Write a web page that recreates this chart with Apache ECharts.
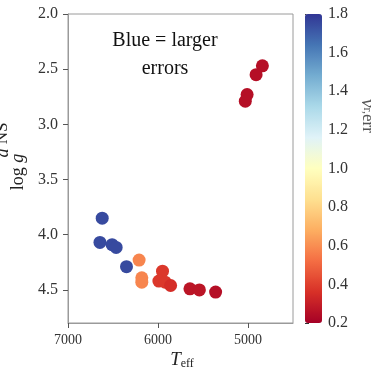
<!DOCTYPE html>
<html>
<head>
<meta charset="utf-8">
<script src="https://cdn.jsdelivr.net/npm/echarts@6/dist/echarts.min.js"></script>
<style>
  html, body { margin: 0; padding: 0; background: #fff; }
  #chart { width: 372px; height: 369px; }
</style>
</head>
<body>
<div id="chart"></div>
<script>
// Effective temperature (K) of each star
const teff = [4840, 4910, 5010, 5030, 6620, 6645, 6510, 6465, 6350, 6210, 6180, 6180, 5950, 5990, 5920, 5860, 5645, 5540, 5360];
// Surface gravity, log g
const logg = [2.47, 2.55, 2.73, 2.79, 3.85, 4.07, 4.09, 4.115, 4.29, 4.23, 4.39, 4.43, 4.33, 4.42, 4.43, 4.46, 4.49, 4.50, 4.52];
// Radial-velocity error used for colouring
const verr = [0.25, 0.25, 0.25, 0.25, 1.75, 1.75, 1.75, 1.75, 1.75, 0.58, 0.58, 0.58, 0.38, 0.38, 0.38, 0.35, 0.27, 0.27, 0.25];

// Tick positions
const teffTicks = [7000, 6000, 5000];
const loggTicks = [2.0, 2.5, 3.0, 3.5, 4.0, 4.5];
const errTicks = [0.2, 0.4, 0.6, 0.8, 1.0, 1.2, 1.4, 1.6, 1.8];

// RdYlBu diverging palette, low values red, high values blue
const rdylbu = ['#a50026', '#d73027', '#f46d43', '#fdae61', '#fee090', '#ffffbf',
                '#e0f3f8', '#abd9e9', '#74add1', '#4575b4', '#313695'];

const points = teff.map((t, i) => [t, logg[i], verr[i]]);

const serif = 'Liberation Serif';
const spine = '#9a9a9a';

const chart = echarts.init(document.getElementById('chart'), null, { renderer: 'canvas' });

chart.setOption({
  animation: false,
  backgroundColor: '#fff',
  grid: [
    { left: 68, top: 14, width: 225, height: 309, show: true, borderColor: spine, borderWidth: 1, backgroundColor: 'transparent' },
    { left: 305, top: 14, width: 17, height: 309, show: false }
  ],
  xAxis: [
    {
      gridIndex: 0, type: 'value', inverse: true, min: 4500, max: 7000,
      axisLine: { show: true, lineStyle: { color: spine, width: 1 } },
      axisTick: { show: true, length: 5, inside: false, lineStyle: { color: '#555' }, customValues: teffTicks },
      axisLabel: { customValues: teffTicks, fontFamily: serif, fontSize: 14, color: '#333', margin: 10,
                   formatter: v => String(Math.round(v)) },
      splitLine: { show: false }
    },
    {
      gridIndex: 1, type: 'value', min: 0, max: 1, show: false
    }
  ],
  yAxis: [
    {
      gridIndex: 0, type: 'value', inverse: true, min: 2.0, max: 4.8,
      axisLine: { show: true, lineStyle: { color: spine, width: 1 } },
      axisTick: { show: true, length: 5, inside: false, lineStyle: { color: '#555' }, customValues: loggTicks },
      axisLabel: { customValues: loggTicks, fontFamily: serif, fontSize: 16, color: '#333', margin: 10,
                   formatter: v => v.toFixed(1) },
      splitLine: { show: false }
    },
    {
      gridIndex: 1, type: 'value', position: 'right', min: 0.2, max: 1.8,
      axisLine: { show: false },
      axisTick: { show: true, length: 4, inside: false, lineStyle: { color: '#333' }, customValues: errTicks },
      axisLabel: { customValues: errTicks, fontFamily: serif, fontSize: 16, color: '#333', margin: 6,
                   formatter: v => v.toFixed(1) },
      splitLine: { show: false }
    }
  ],
  visualMap: {
    type: 'continuous',
    seriesIndex: 0,
    dimension: 2,
    min: 0.2,
    max: 1.8,
    calculable: false,
    hoverLink: false,
    left: 305,
    top: 14,
    padding: 0,
    itemWidth: 17,
    itemHeight: 309,
    inRange: { color: rdylbu }
  },
  series: [
    {
      type: 'scatter',
      xAxisIndex: 0,
      yAxisIndex: 0,
      data: points,
      symbol: 'circle',
      symbolSize: 13,
      itemStyle: { opacity: 1 }
    }
  ],
  graphic: [
    {
      type: 'text', x: 165, y: 27,
      style: {
        text: 'Blue = larger\nerrors', fontFamily: serif, fontSize: 20, lineHeight: 28,
        fill: '#111', textAlign: 'center', textVerticalAlign: 'top'
      }
    },
    {
      type: 'text', x: 182, y: 360,
      style: {
        text: '{t|T}{s|eff}', textAlign: 'center', textVerticalAlign: 'middle',
        rich: {
          t: { fontFamily: serif, fontStyle: 'italic', fontSize: 19, fill: '#222' },
          s: { fontFamily: serif, fontSize: 12, fill: '#222', padding: [8, 0, 0, 0] }
        }
      }
    },
    {
      type: 'text', x: 18, y: 172, rotation: Math.PI / 2,
      style: {
        text: '{a|log }{b|g}', textAlign: 'center', textVerticalAlign: 'middle',
        rich: {
          a: { fontFamily: serif, fontSize: 18, fill: '#222' },
          b: { fontFamily: serif, fontStyle: 'italic', fontSize: 18, fill: '#222' }
        }
      }
    },
    {
      type: 'text', x: 3, y: 140, rotation: Math.PI / 2,
      style: {
        text: '{a|d}{b| NS}', textAlign: 'center', textVerticalAlign: 'middle',
        rich: {
          a: { fontFamily: serif, fontStyle: 'italic', fontSize: 18, fill: '#222' },
          b: { fontFamily: serif, fontSize: 17, fill: '#222' }
        }
      }
    },
    {
      type: 'text', x: 367, y: 116, rotation: -Math.PI / 2,
      style: {
        text: '{a|v}{b|r,}{c|err}', textAlign: 'center', textVerticalAlign: 'middle',
        rich: {
          a: { fontFamily: serif, fontStyle: 'italic', fontSize: 19, fill: '#555' },
          b: { fontFamily: serif, fontSize: 12, fill: '#555' },
          c: { fontFamily: serif, fontSize: 17, fill: '#555' }
        }
      }
    }
  ]
});
</script>
</body>
</html>
